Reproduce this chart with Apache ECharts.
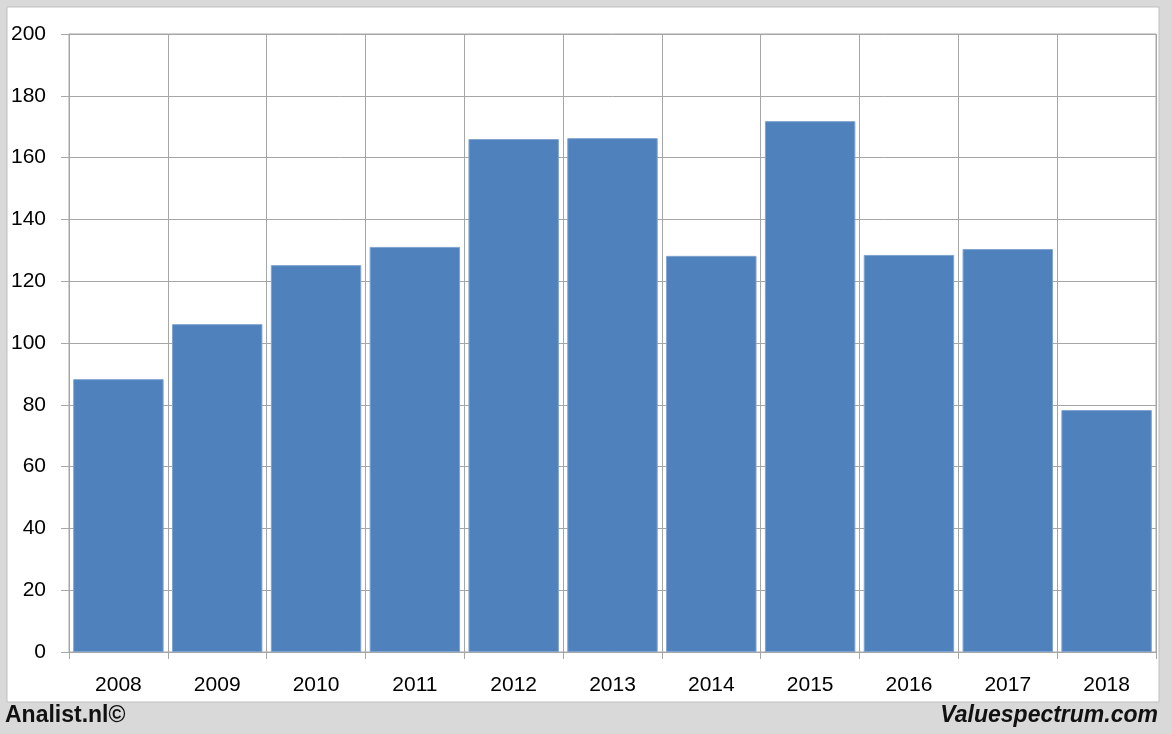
<!DOCTYPE html>
<html><head><meta charset="utf-8">
<script src="https://cdn.jsdelivr.net/npm/echarts@6/dist/echarts.min.js"></script>
<style>html,body{margin:0;padding:0;background:#d9d9d9}#c{width:1172px;height:734px}</style>
</head><body><div id="c"></div>
<script>
const categories = ['2008','2009','2010','2011','2012','2013','2014','2015','2016','2017','2018'];
const values = [88.3, 106.1, 125.2, 131.1, 166.0, 166.3, 128.2, 171.8, 128.5, 130.4, 78.3];
const yTicks = [0, 20, 40, 60, 80, 100, 120, 140, 160, 180, 200];

const chart = echarts.init(document.getElementById('c'));
const font = '"Liberation Sans", Arial, sans-serif';
chart.setOption({
  animation: false,
  backgroundColor: '#d9d9d9',
  graphic: [
    {type:'rect', z:-10, shape:{x:7, y:7, width:1152, height:695}, style:{fill:'#ffffff', stroke:'#bfbfbf', lineWidth:1}},
    {type:'text', left:5, top:704, style:{text:'Analist.nl©', font:'bold 23px ' + font, fill:'#111'}},
    {type:'text', right:14, top:704, style:{text:'Valuespectrum.com', font:'italic bold 23px ' + font, fill:'#111'}}
  ],
  grid: {left:69, right:16, top:34, bottom:82, show:true, borderColor:'#a6a6a6', borderWidth:1, backgroundColor:'transparent'},
  xAxis: {
    type:'category', data:categories,
    axisLine:{show:true, lineStyle:{color:'#a6a6a6'}},
    axisTick:{show:true, length:7, alignWithLabel:false, lineStyle:{color:'#a6a6a6'}},
    splitLine:{show:true, lineStyle:{color:'#a6a6a6', width:1}},
    axisLabel:{color:'#000', fontSize:21, fontFamily:font, margin:23}
  },
  yAxis: {
    type:'value', min:0, max:200, interval:20,
    axisLine:{show:true, lineStyle:{color:'#a6a6a6'}},
    axisTick:{show:true, length:8, inside:false, lineStyle:{color:'#a6a6a6'}},
    splitLine:{show:true, lineStyle:{color:'#a6a6a6', width:1}},
    axisLabel:{color:'#000', fontSize:21, fontFamily:font, margin:23,
      formatter: v => yTicks.includes(v) ? String(v) : ''}
  },
  series: [{
    type:'bar', data:values, barCategoryGap:'8.5%',
    itemStyle:{color:'#4f81bd', borderColor:'#7fa3d0', borderWidth:1}
  }]
});
</script></body></html>
